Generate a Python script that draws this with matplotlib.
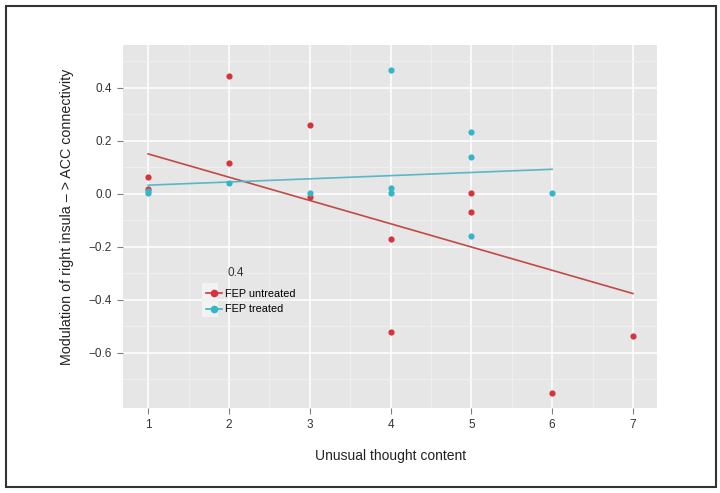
import numpy as np
import matplotlib
matplotlib.use("Agg")
import matplotlib.pyplot as plt
from matplotlib.lines import Line2D
from matplotlib.patches import Rectangle

plt.rcParams['font.family'] = ['Liberation Sans', 'DejaVu Sans']

# datos
x_untreated = [1, 1, 2, 2, 3, 3, 4, 4, 5, 5, 6, 7]
y_untreated = [0.065, 0.02, 0.445, 0.118, 0.26, -0.01, -0.17, -0.522, 0.002, -0.068, -0.75, -0.535]
x_treated = [1, 1, 2, 3, 4, 4, 4, 5, 5, 5, 6]
y_treated = [0.012, 0.004, 0.04, 0.003, 0.468, 0.021, 0.005, 0.233, 0.14, -0.157, 0.003]

# rectas de ajuste (extremos)
fit_x_untreated = [1, 7]
fit_y_untreated = [0.151, -0.376]
fit_x_treated = [1, 6]
fit_y_treated = [0.033, 0.093]

labels = ["FEP untreated", "FEP treated"]
legend_title = "0.4"

col_red_pt = '#D5343D'
col_red_ln = '#C24A45'
col_cy_pt = '#35B6C6'
col_cy_ln = '#5BB7C6'

fig = plt.figure(figsize=(7.2, 4.93), dpi=100)
ax = fig.add_axes([0.171, 0.1724, 0.7417, 0.7363])

ax.set_facecolor('#E6E6E6')
ax.set_xlim(0.69, 7.3)
ax.set_ylim(-0.808, 0.562)

ax.set_xticks(range(1, 8))
ax.set_yticks([-0.6, -0.4, -0.2, 0.0, 0.2, 0.4])
ax.set_yticklabels(['\u22120.6', '\u22120.4', '\u22120.2', '0.0', '0.2', '0.4'])
ax.set_xticks(np.arange(1.5, 7.5, 1), minor=True)
ax.set_yticks([-0.7, -0.5, -0.3, -0.1, 0.1, 0.3, 0.5], minor=True)

ax.grid(True, which='major', color='white', linewidth=1.1)
ax.grid(True, which='minor', color='#F0F0F0', linewidth=0.6)
ax.set_axisbelow(True)
for s in ax.spines.values():
    s.set_visible(False)
ax.tick_params(which='major', length=4, width=0.8, color='#7F7F7F',
               labelsize=8.5, labelcolor='#333333', pad=4)
ax.tick_params(which='minor', length=0)

ax.plot(fit_x_untreated, fit_y_untreated, color=col_red_ln, lw=1.2, zorder=3)
ax.plot(fit_x_treated, fit_y_treated, color=col_cy_ln, lw=1.2, zorder=3)
ax.scatter(x_untreated, y_untreated, s=20, color=col_red_pt, zorder=4, linewidths=0)
ax.scatter(x_treated, y_treated, s=20, color=col_cy_pt, zorder=5, linewidths=0)

ax.set_xlabel("Unusual thought content", fontsize=10, color='#222222', labelpad=13)
ax.set_ylabel("Modulation of right insula \u2013 > ACC connectivity", fontsize=10.3,
              color='#222222')
ax.yaxis.set_label_coords(-0.092, 0.5275)

# leyenda
ax.add_patch(Rectangle((0.148, 0.251), 0.030, 0.093, transform=ax.transAxes,
                       facecolor='#F2F2F2', edgecolor='none', zorder=5))
handles = [Line2D([], [], color=col_red_pt, marker='o', markersize=4.5, lw=1.2),
           Line2D([], [], color=col_cy_pt, marker='o', markersize=4.5, lw=1.2)]
leg = ax.legend(handles, labels, loc='upper left', bbox_to_anchor=(0.137, 0.355),
                frameon=False, fontsize=7.8, handlelength=1.45, handletextpad=0.3,
                labelspacing=0.5)
leg.set_zorder(6)
ax.text(0.211, 0.372, legend_title, transform=ax.transAxes, fontsize=8.5,
        color='#333333', ha='center', va='center')

# marco exterior
fig.add_artist(Rectangle((6 / 720, 6 / 493), 710 / 720, 481 / 493,
                         transform=fig.transFigure, fill=False,
                         edgecolor='#333333', linewidth=1.5))

fig.savefig("out.png", dpi=100)
